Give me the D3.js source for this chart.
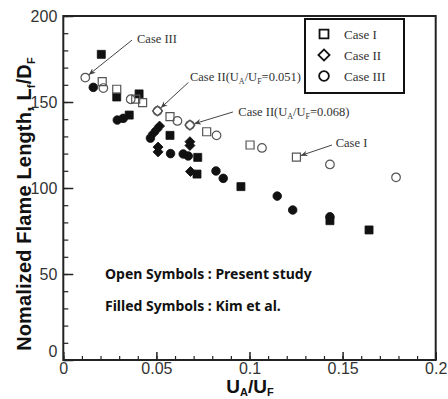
<!DOCTYPE html>
<meta charset="utf-8">
<style>
  body { margin: 0; background: #fff; }
  svg { display: block; }
  .tick text { font-family: "Liberation Sans", Arial, sans-serif; font-size: 16px; fill: #333; }
  .serif { font-family: "Liberation Serif", "Times New Roman", serif; fill: #333; }
</style>
<svg id="chart" width="448" height="399"></svg>
<script src="https://d3js.org/d3.v7.min.js"></script>
<script>
// ---------- data (U_A/U_F, L_f/D_F) ----------
// open symbols: present study
var caseI_open = [[0.0209,161.8],[0.0287,157.4],[0.0389,151.7],[0.0426,149.6],[0.0573,141.5],[0.0770,132.7],[0.1003,125.0],[0.1252,118.0]];
var caseII_open = [[0.0506,144.8],[0.0680,136.6]];
var caseIII_open = [[0.0118,164.2],[0.0215,158.1],[0.0362,151.6],[0.0506,144.8],[0.0613,139.0],[0.0680,136.6],[0.0823,130.6],[0.1067,123.3],[0.1432,113.7],[0.1787,106.2]];
// filled symbols: Kim et al.
var kim_square = [[0.0204,177.7],[0.0287,152.9],[0.0407,154.7],[0.0354,142.4],[0.0573,130.6],[0.0722,117.8],[0.0718,108.1],[0.0954,100.8],[0.1432,81.0],[0.1642,75.6]];
var kim_diamond = [[0.0517,136.0],[0.0502,134.0],[0.0484,131.8],[0.0509,123.8],[0.0509,121.0],[0.0680,126.9],[0.0680,124.7],[0.0683,109.6]];
var kim_circle = [[0.0161,158.5],[0.0290,139.5],[0.0322,140.5],[0.0468,129.0],[0.0576,120.0],[0.0644,119.8],[0.0671,118.6],[0.0820,109.9],[0.0859,105.6],[0.1149,95.3],[0.1232,87.2],[0.1432,83.3]];

var xTicks = [0, 0.05, 0.1, 0.15, 0.2];
var xTickLabels = ["0", "0.05", "0.1", "0.15", "0.2"];
var yTicks = [0, 50, 100, 150, 200];
var legendNames = ["Case I", "Case II", "Case III"];

// annotations: text start, arrow start, arrow target (data units)
var notes = [
  { text: ["Case III"], at: [0.0396, 184.3], from: [0.0369, 186.0], to: [0.0118, 164.2] },
  { text: ["Case II(U", "A", "/U", "F", "=0.051)"], at: [0.0680, 162.2], from: [0.0672, 161.4], to: [0.0506, 144.8] },
  { text: ["Case II(U", "A", "/U", "F", "=0.068)"], at: [0.0940, 141.9], from: [0.0911, 144.2], to: [0.0680, 136.6] },
  { text: ["Case I"], at: [0.1463, 123.8], from: [0.1443, 125.0], to: [0.1252, 118.0] }
];

(function () {
  // ---------- layout ----------
  var svg = d3.select("#chart");
  var pLeft = 63.3, pRight = 435.7, pTop = 16, pBottom = 360;
  var x = d3.scaleLinear().domain([0, 0.2]).range([pLeft, pRight]);
  var y = d3.scaleLinear().domain([0, 200]).range([pBottom, pTop]);

  // minor ticks
  svg.append("g").attr("transform", "translate(0," + pBottom + ")")
    .call(d3.axisBottom(x).tickValues(d3.range(0, 0.2001, 0.01)).tickSize(-4).tickFormat(""))
    .call(function (g) { g.select(".domain").remove(); g.selectAll("line").attr("stroke", "#222").attr("stroke-width", 1.2); });
  svg.append("g").attr("transform", "translate(" + pLeft + ",0)")
    .call(d3.axisLeft(y).tickValues(d3.range(0, 201, 10)).tickSize(-5).tickFormat(""))
    .call(function (g) { g.select(".domain").remove(); g.selectAll("line").attr("stroke", "#222").attr("stroke-width", 1.2); });

  // major ticks
  svg.append("g").attr("transform", "translate(0," + pBottom + ")")
    .call(d3.axisBottom(x).tickValues(xTicks).tickSize(-8).tickPadding(3)
      .tickFormat(function (d, i) { return xTickLabels[i]; }))
    .call(function (g) { g.select(".domain").remove(); g.selectAll("line").attr("stroke", "#222").attr("stroke-width", 1.5); });
  svg.append("g").attr("transform", "translate(" + pLeft + ",0)")
    .call(d3.axisLeft(y).tickValues(yTicks).tickSize(-10).tickPadding(6))
    .call(function (g) {
      g.select(".domain").remove();
      g.selectAll("line").attr("stroke", "#222").attr("stroke-width", 1.5);
      g.selectAll(".tick").filter(function (d) { return d === 0; }).select("text").attr("dy", "-0.2em");
    });

  // frame
  svg.append("rect").attr("x", pLeft).attr("y", pTop).attr("width", pRight - pLeft).attr("height", pBottom - pTop)
    .attr("fill", "none").attr("stroke", "#222").attr("stroke-width", 2);

  // ---------- symbols ----------
  // diamond = square turned 45 degrees
  var sq = d3.symbol().type(d3.symbolSquare).size(64);
  var dia = d3.symbol().type(d3.symbolSquare).size(50);
  var cir = d3.symbol().type(d3.symbolCircle).size(58);

  function plot(data, sym, filled, rot) {
    svg.append("g").selectAll("path").data(data).enter().append("path")
      .attr("d", sym)
      .attr("transform", function (d) { return "translate(" + x(d[0]) + "," + y(d[1]) + ")" + (rot ? "rotate(45)" : ""); })
      .attr("fill", filled ? "#111" : "none")
      .attr("stroke", filled ? "#111" : "#555")
      .attr("stroke-width", filled ? 0.8 : 1.2);
  }
  plot(kim_square, sq, true);
  plot(kim_diamond, dia, true, true);
  plot(kim_circle, cir, true);
  plot(caseI_open, sq, false);
  plot(caseII_open, dia, false, true);
  plot(caseIII_open, cir, false);

  // ---------- annotations ----------
  svg.append("defs").append("marker").attr("id", "arrow")
    .attr("viewBox", "0 0 10 10").attr("refX", 9).attr("refY", 5)
    .attr("markerWidth", 7).attr("markerHeight", 7).attr("orient", "auto")
    .append("path").attr("d", "M0,1L10,5L0,9L3,5Z").attr("fill", "#444");

  notes.forEach(function (n) {
    var x1 = x(n.from[0]), y1 = y(n.from[1]), x2 = x(n.to[0]), y2 = y(n.to[1]);
    var len = Math.hypot(x2 - x1, y2 - y1), k = (len - 5) / len;
    svg.append("line").attr("x1", x1).attr("y1", y1)
      .attr("x2", x1 + (x2 - x1) * k).attr("y2", y1 + (y2 - y1) * k)
      .attr("stroke", "#444").attr("stroke-width", 1).attr("marker-end", "url(#arrow)");
    var t = svg.append("text").attr("class", "serif").attr("font-size", 12.5)
      .attr("x", x(n.at[0])).attr("y", y(n.at[1]));
    n.text.forEach(function (s, i) {
      var sub = i % 2 === 1;
      t.append("tspan").text(s)
        .attr("font-size", sub ? 8 : 12.5)
        .attr("dy", i === 0 ? 0 : (sub ? 3 : -3));
    });
  });

  // study notes
  svg.append("text").attr("x", x(0.0224)).attr("y", y(47.1))
    .attr("font-family", "'Noto Sans', sans-serif").attr("font-weight", "bold").attr("font-size", 14).attr("fill", "#111")
    .text("Open Symbols : Present study");
  svg.append("text").attr("x", x(0.0224)).attr("y", y(28.5))
    .attr("font-family", "'Noto Sans', sans-serif").attr("font-weight", "bold").attr("font-size", 14).attr("fill", "#111")
    .text("Filled Symbols : Kim et al.");

  // ---------- legend ----------
  var lg = svg.append("g");
  lg.append("rect").attr("x", 305).attr("y", 19).attr("width", 99).attr("height", 74)
    .attr("fill", "#fff").attr("stroke", "#111").attr("stroke-width", 2);
  var lsyms = [d3.symbol().type(d3.symbolSquare).size(80), d3.symbol().type(d3.symbolSquare).size(62), d3.symbol().type(d3.symbolCircle).size(75)];
  legendNames.forEach(function (name, i) {
    var cy = 34 + i * 21;
    lg.append("path").attr("d", lsyms[i]).attr("transform", "translate(324," + cy + ")" + (i === 1 ? "rotate(45)" : ""))
      .attr("fill", "none").attr("stroke", "#111").attr("stroke-width", 1.8);
    lg.append("text").attr("class", "serif").attr("font-size", 13).attr("x", 344).attr("y", cy + 5).text(name);
  });

  // ---------- axis titles ----------
  var xt = svg.append("text").attr("x", (pLeft + pRight) / 2 + 0.5).attr("y", 392.5).attr("text-anchor", "middle")
    .attr("font-family", "'Liberation Sans', Arial, sans-serif").attr("font-weight", "bold").attr("font-size", 19).attr("fill", "#111");
  xt.append("tspan").text("U");
  xt.append("tspan").text("A").attr("font-size", 11).attr("dy", 3);
  xt.append("tspan").text("/U").attr("dy", -3);
  xt.append("tspan").text("F").attr("font-size", 11).attr("dy", 3);

  var yt = svg.append("text").attr("transform", "translate(31,204)rotate(-90)").attr("text-anchor", "middle")
    .attr("font-family", "'Liberation Sans', Arial, sans-serif").attr("font-weight", "bold").attr("font-size", 20)
    .attr("letter-spacing", 0.15).attr("fill", "#111");
  yt.append("tspan").text("Nomalized Flame Length, L");
  yt.append("tspan").text("f").attr("font-size", 11).attr("dy", 4);
  yt.append("tspan").text("/D").attr("dy", -4);
  yt.append("tspan").text("F").attr("font-size", 11).attr("dy", 4);
})();
</script>
